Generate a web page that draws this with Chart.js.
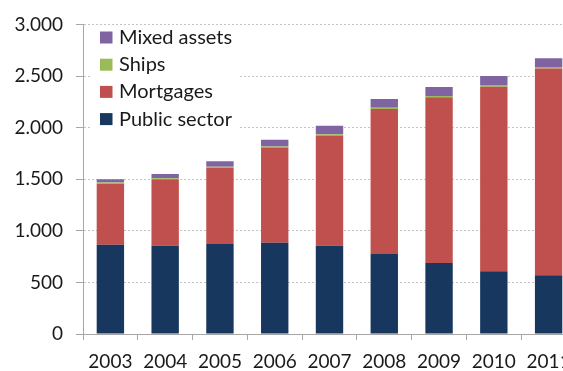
<!DOCTYPE html>
<html lang="en">

<head>
    <meta charset="UTF-8">
    <title>Cover pool composition</title>
    <script src="https://cdn.jsdelivr.net/npm/chart.js"></script>
    <style>
        html, body { margin: 0; padding: 0; overflow: hidden; background: #fff; }
    </style>
</head>

<body>
<canvas id="poolChart" width="576" height="371"></canvas>

<script>
    const years = ['2003', '2004', '2005', '2006', '2007', '2008', '2009', '2010', '2011'];
    const publicSector = [865, 856, 872, 885, 856, 776, 689, 609, 570];
    const mortgages = [592, 644, 738, 923, 1067, 1404, 1604, 1788, 2002];
    const ships = [10, 10, 10, 10, 12, 12, 14, 15, 15];
    const mixedAssets = [33, 40, 53, 64, 84, 84, 87, 88, 86];

    const FONT = 'Lato, "Open Sans", sans-serif';

    // thousands with a dot, e.g. 2.500
    function fmt(v) {
        return String(v).replace(/\B(?=(\d{3})+(?!\d))/g, '.');
    }

    // legend drawn inside the plot, top series first
    const innerLegend = {
        id: 'innerLegend',
        afterDraw(chart) {
            const ctx = chart.ctx;
            const sets = chart.data.datasets.slice().reverse();
            ctx.save();
            ctx.fillStyle = '#fff';
            ctx.fillRect(90, 25, 148, 106);
            ctx.font = '20px ' + FONT;
            ctx.textBaseline = 'middle';
            sets.forEach((ds, i) => {
                const y = 37.5 + i * 27.2;
                ctx.fillStyle = ds.backgroundColor;
                ctx.fillRect(100, y - 6, 12.5, 12);
                ctx.fillStyle = '#1a1a1a';
                ctx.fillText(ds.label, 119, y);
            });
            ctx.restore();
        }
    };

    const ctx = document.getElementById('poolChart').getContext('2d');
    new Chart(ctx, {
        type: 'bar',
        data: {
            labels: years,
            datasets: [
                { label: 'Public sector', data: publicSector, backgroundColor: '#17375E' },
                { label: 'Mortgages', data: mortgages, backgroundColor: '#C0504D' },
                { label: 'Ships', data: ships, backgroundColor: '#9BBB59' },
                { label: 'Mixed assets', data: mixedAssets, backgroundColor: '#8064A2' }
            ]
        },
        options: {
            responsive: false,
            animation: false,
            datasets: {
                bar: { barPercentage: 0.5, categoryPercentage: 1.0 }
            },
            layout: { padding: { top: 21, right: 0, left: 0, bottom: 0 } },
            plugins: {
                legend: { display: false },
                tooltip: { enabled: false }
            },
            scales: {
                x: {
                    stacked: true,
                    grid: {
                        offset: true,
                        drawOnChartArea: false,
                        tickLength: 6,
                        tickColor: '#a6a6a6'
                    },
                    border: { color: '#a6a6a6' },
                    ticks: {
                        color: '#1a1a1a',
                        font: { family: FONT, size: 19 },
                        padding: 10,
                        maxRotation: 0
                    },
                    afterFit(scale) {
                        scale.height = 37;
                        scale.paddingLeft = 0;
                        scale.paddingRight = 0;
                    }
                },
                y: {
                    stacked: true,
                    min: 0,
                    max: 3000,
                    grid: {
                        color: '#c4c4c4',
                        tickColor: '#a6a6a6',
                        tickLength: 7
                    },
                    border: { color: '#a6a6a6', dash: [2, 2] },
                    ticks: {
                        stepSize: 500,
                        color: '#1a1a1a',
                        font: { family: FONT, size: 19 },
                        padding: 13,
                        callback: (v) => fmt(v)
                    },
                    afterFit(scale) { scale.width = 83; }
                }
            }
        },
        plugins: [innerLegend]
    });
</script>
</body>

</html>
